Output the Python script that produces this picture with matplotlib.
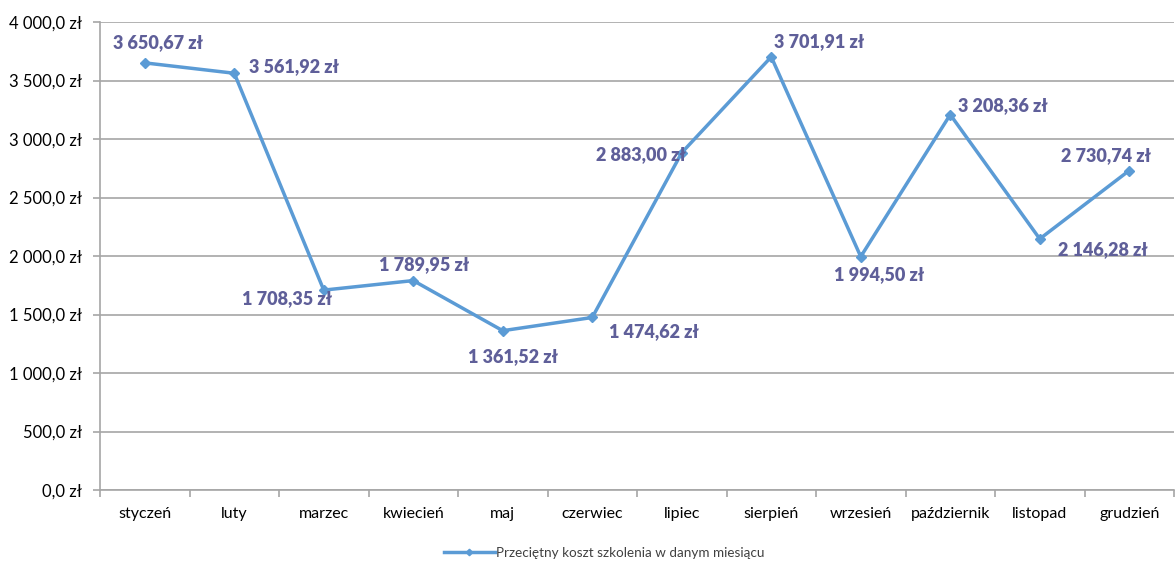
import matplotlib
matplotlib.use("Agg")
import matplotlib.pyplot as plt
from matplotlib.ticker import FuncFormatter, FixedLocator

months = ["styczeń", "luty", "marzec", "kwiecień", "maj", "czerwiec",
          "lipiec", "sierpień", "wrzesień", "październik", "listopad", "grudzień"]
costs = [3650.67, 3561.92, 1708.35, 1789.95, 1361.52, 1474.62,
         2883.00, 3701.91, 1994.50, 3208.36, 2146.28, 2730.74]
series_name = "Przeciętny koszt szkolenia w danym miesiącu"

# label offsets in pixels (dx, dy, ha)
label_pos = [(13, 20, "center"), (15, 7, "left"), (-37, -8, "center"),
             (11, 16, "center"), (10, -26, "center"), (17, -14, "left"),
             (-41, -2, "center"), (3, 15, "left"), (18, -18, "center"),
             (8, 9, "left"), (18, -11, "left"), (-23, 15, "center")]

line_color = "#5b9bd5"
label_color = "#5f5f99"
grid_color = "#a6a6a6"
text_color = "#404040"

plt.rcParams['font.family'] = ['Lato', 'DejaVu Sans']

def pln(v, pos=None):
    s = f"{v:,.1f}".replace(",", " ").replace(".", ",")
    return s + " zł"

def pln2(v):
    s = f"{v:,.2f}".replace(",", " ").replace(".", ",")
    return s + " zł"

fig = plt.figure(figsize=(11.75, 5.62), dpi=100)
ax = fig.add_axes([100 / 1175, 1 - 490 / 562, 1074 / 1175, 468 / 562])

x = list(range(len(months)))
ax.plot(x, costs, color=line_color, linewidth=2.5, marker="D", markersize=5.5,
        label=series_name, zorder=3)

for i, v in enumerate(costs):
    dx, dy, ha = label_pos[i]
    ax.annotate(pln2(v), (i, v), xytext=(dx * 0.72, dy * 0.72), textcoords="offset points",
                ha=ha, va="center", fontsize=13, fontweight="heavy", color=label_color)

ax.set_xlim(-0.5, len(months) - 0.5)
ax.set_ylim(0, 4000)
ax.set_yticks([i * 500 for i in range(9)])
ax.yaxis.set_major_formatter(FuncFormatter(pln))
ax.grid(axis="y", color=grid_color, linewidth=1.2)

ax.xaxis.set_major_locator(FixedLocator([i - 0.5 for i in range(len(months) + 1)]))
ax.xaxis.set_major_formatter(FuncFormatter(lambda v, p: ""))
ax.xaxis.set_minor_locator(FixedLocator(x))
ax.set_xticklabels(months, minor=True)
ax.tick_params(axis="x", which="minor", length=0, pad=12, labelsize=11.5, labelcolor="#000000")
ax.tick_params(axis="x", which="major", length=5, color=grid_color, width=1.2)
ax.tick_params(axis="y", length=5, color=grid_color, width=1.2, labelsize=12,
               labelcolor="#000000", pad=8)

for side in ["top", "right"]:
    ax.spines[side].set_visible(False)
for side in ["left", "bottom"]:
    ax.spines[side].set_color(grid_color)
    ax.spines[side].set_linewidth(1.2)

leg = fig.legend(loc="center", bbox_to_anchor=(604 / 1175, 1 - 553 / 562), frameon=False,
                 fontsize=9.7, handlelength=3.8, handletextpad=0.1, markerscale=0.6)
for t in leg.get_texts():
    t.set_color(text_color)

fig.savefig("out.png", dpi=100)
